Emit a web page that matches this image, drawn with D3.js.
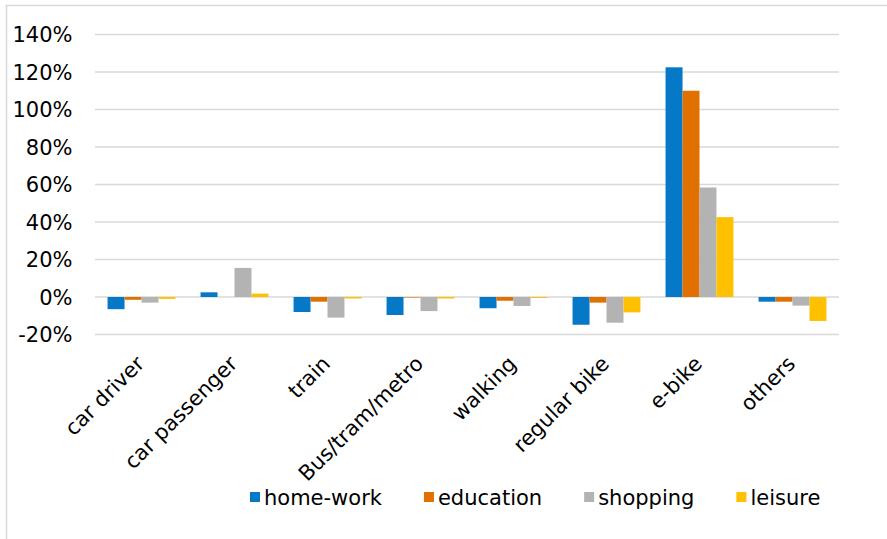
<!DOCTYPE html>
<html>
<head>
<meta charset="utf-8">
<script src="https://cdn.jsdelivr.net/npm/d3@7"></script>
<style>
  body { margin: 0; background: #fff; }
  svg { display: block; font-family: "DejaVu Sans", Verdana, sans-serif; }
</style>
</head>
<body>
<svg width="887" height="539"></svg>
<script>
// categories (modes) and purposes
var categories = ["car driver", "car passenger", "train", "Bus/tram/metro", "walking", "regular bike", "e-bike", "others"];
var purposes = ["home-work", "education", "shopping", "leisure"];
var colors = ["#0579C8", "#E07000", "#B3B3B3", "#FFC000"];

// % change per purpose, one value per mode
var homeWork  = [-6.5, 2.5, -8, -9.6, -6, -14.8, 122.5, -2.5];
var education = [-1.5, 0, -2.5, -0.3, -2, -3, 110, -2.5];
var shopping  = [-3, 15.5, -11, -7.5, -4.8, -13.7, 58.4, -4.6];
var leisure   = [-1, 1.8, -0.8, -0.8, -0.5, -8.2, 42.6, -12.8];
var series = [homeWork, education, shopping, leisure];

var yTicks = [-20, 0, 20, 40, 60, 80, 100, 120, 140];

var FONT_SIZE = 21;
var marge = {top: 34.5, left: 95, right: 48, bottom: 204.5};
var svg = d3.select("svg");
var width = +svg.attr("width");
var height = +svg.attr("height");

// chart border (runs off the right and bottom edge)
svg.append("rect")
    .attr("x", 6.5).attr("y", 5.5)
    .attr("width", 1000).attr("height", 1000)
    .attr("fill", "none")
    .attr("stroke", "#d9d9d9")
    .attr("stroke-width", 1.5);

var x0 = d3.scaleBand()
    .domain(categories)
    .range([marge.left, width - marge.right])
    .paddingInner(0.27)
    .paddingOuter(0.135);

var x1 = d3.scaleBand()
    .domain(purposes)
    .range([0, x0.bandwidth()]);

var y = d3.scaleLinear()
    .domain([-20, 140])
    .range([height - marge.bottom, marge.top]);

// gridlines
svg.append("g")
    .selectAll("line")
    .data(yTicks)
    .enter()
    .append("line")
    .attr("x1", marge.left)
    .attr("x2", width - marge.right)
    .attr("y1", function(d){ return y(d); })
    .attr("y2", function(d){ return y(d); })
    .attr("stroke", "#d9d9d9")
    .attr("stroke-width", 1.5);

// y tick labels
svg.append("g")
    .selectAll("text")
    .data(yTicks)
    .enter()
    .append("text")
    .attr("x", 72.5)
    .attr("y", function(d){ return y(d); })
    .attr("dy", "0.36em")
    .attr("text-anchor", "end")
    .attr("font-size", FONT_SIZE)
    .attr("fill", "#000")
    .text(function(d){ return d + "%"; });

// bars
var groups = svg.append("g")
    .selectAll("g")
    .data(purposes)
    .enter()
    .append("g")
    .attr("fill", function(d, i){ return colors[i]; });

groups.selectAll("rect")
    .data(function(p, i){
        return categories.map(function(c, j){ return {cat: c, key: p, value: series[i][j]}; });
    })
    .enter()
    .append("rect")
    .attr("x", function(d){ return x0(d.cat) + x1(d.key); })
    .attr("width", x1.bandwidth())
    .attr("y", function(d){ return y(Math.max(0, d.value)); })
    .attr("height", function(d){ return Math.abs(y(d.value) - y(0)); });

// category labels, rotated
svg.append("g")
    .selectAll("text")
    .data(categories)
    .enter()
    .append("text")
    .attr("transform", function(d){
        var cx = x0(d) + x0.bandwidth() / 2 + 4;
        return "translate(" + cx + "," + 365 + ") rotate(-45)";
    })
    .attr("text-anchor", "end")
    .attr("font-size", FONT_SIZE)
    .attr("fill", "#000")
    .text(function(d){ return d; });

// legend, laid out left to right from measured text widths
var legend = svg.append("g");
var lx = 250;
purposes.forEach(function(p, i){
    var item = legend.append("g")
        .attr("transform", "translate(" + lx + ",492)");
    item.append("rect")
        .attr("width", 10)
        .attr("height", 10)
        .attr("fill", colors[i]);
    var t = item.append("text")
        .attr("x", 14)
        .attr("y", 13)
        .attr("font-size", FONT_SIZE)
        .attr("fill", "#000")
        .text(p);
    lx += 14 + t.node().getComputedTextLength() + 42;
});
</script>
</body>
</html>
